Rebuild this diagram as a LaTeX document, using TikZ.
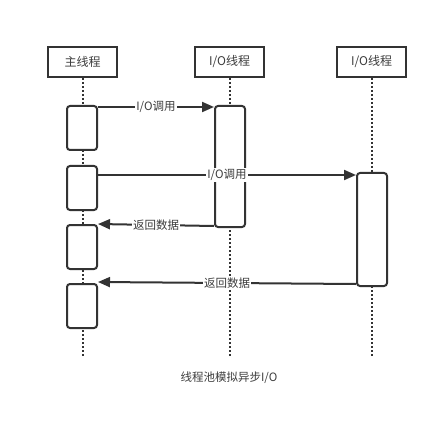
\documentclass[tikz,border=0pt]{standalone}
\usepackage{fontspec}
\setmainfont{Noto Sans CJK SC}
\usetikzlibrary{arrows.meta}
\definecolor{linegray}{RGB}{51,51,51}
\definecolor{textgray}{RGB}{60,60,60}

\begin{document}
\begin{tikzpicture}[x=1pt,y=-1pt,
    head/.style={draw=linegray,line width=2pt,minimum width=69pt,minimum height=30pt,inner sep=0pt,font=\fontsize{12}{14}\selectfont,text=textgray},
    act/.style={draw=linegray,line width=2pt,rounded corners=3pt,fill=white,minimum width=30pt,inner sep=0pt},
    life/.style={linegray,line width=2pt,dotted},
    msg/.style={linegray,line width=2pt,-{Triangle[length=12pt,width=10pt]}},
    lbl/.style={fill=white,inner sep=1pt,font=\fontsize{11.5}{13}\selectfont,text=textgray}]
    \useasboundingbox (0,0) rectangle (438,430);
    % lifeline heads
    \node[head] (main) at (82.5,62) {主线程};
    \node[head] (ioa) at (229.5,62) {I/O线程};
    \node[head] (iob) at (371.5,62) {I/O线程};
    % lifelines
    \coordinate (mainend) at (82.5,356);
    \coordinate (ioaend) at (229.5,356);
    \coordinate (iobend) at (371.5,356);
    \draw[life] (main) -- (mainend);
    \draw[life] (ioa) -- (ioaend);
    \draw[life] (iob) -- (iobend);
    % activations
    \node[act,minimum height=44pt] (m1) at (82,128) {};
    \node[act,minimum height=44pt] (m2) at (82,188) {};
    \node[act,minimum height=44pt] (m3) at (82,247) {};
    \node[act,minimum height=44pt] (m4) at (82,306) {};
    \node[act,minimum height=121pt] (a1) at (230,166.5) {};
    \node[act,minimum height=113pt] (b1) at (372,229.5) {};
    % messages
    \draw[msg] ([yshift=-2]m1.north east) -- node[lbl] {I/O调用} ([yshift=-2]a1.north west);
    \draw[msg] ([yshift=-10]m2.north east) -- node[lbl] {I/O调用} ([yshift=-3]b1.north west);
    \draw[msg] ([yshift=2]a1.south west) -- node[lbl] {返回数据} (m3.north east);
    \draw[msg] ([yshift=3]b1.south west) -- node[lbl] {返回数据} ([yshift=1]m4.north east);
    % caption
    \node[font=\fontsize{11.5}{13}\selectfont,text=textgray] (cap) at (229,378) {线程池模拟异步I/O};
\end{tikzpicture}
\end{document}
